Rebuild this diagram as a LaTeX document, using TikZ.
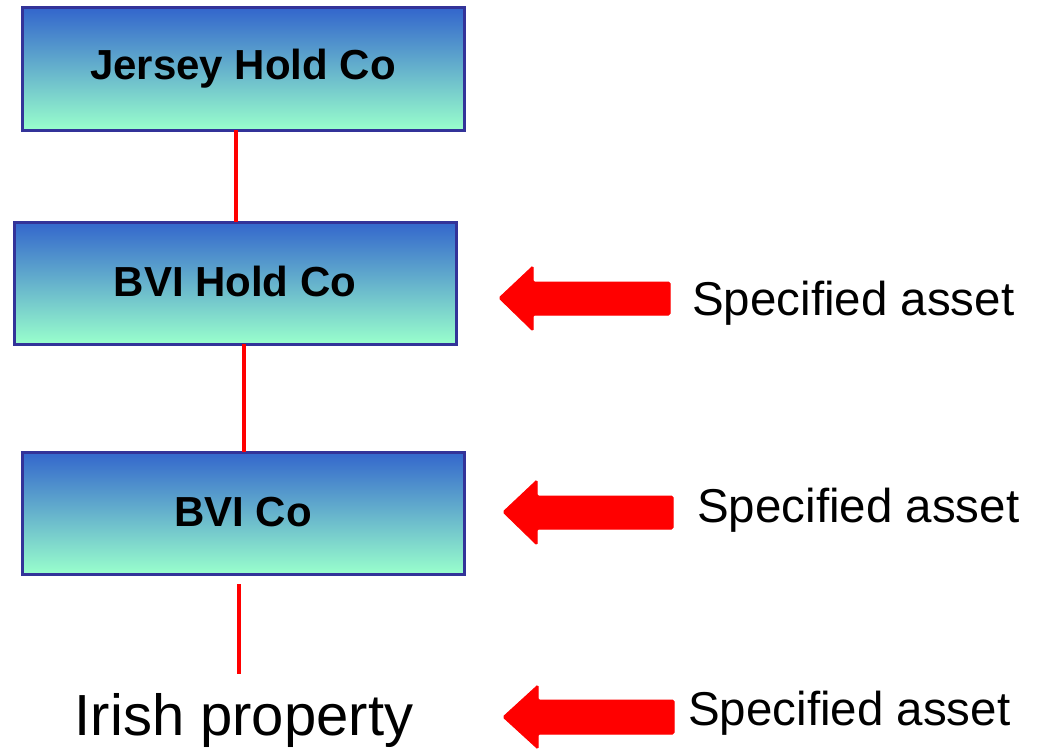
\documentclass[tikz,border=0pt]{standalone}
\usepackage{fontspec}
\setmainfont{Liberation Sans}
\begin{document}
\begin{tikzpicture}[x=1pt,y=-1pt,
  cobox/.style={draw=boxborder, line width=3pt, top color=boxtop, bottom color=boxbot,
    minimum width=442pt, minimum height=122pt, inner sep=0pt, outer sep=0pt,
    font=\fontsize{42}{50}\selectfont\bfseries},
  link/.style={draw=red, line width=3.5pt},
  asset/.style={anchor=west, inner sep=0pt, font=\fontsize{47.5}{56}\selectfont},
  bigarrow/.style={fill=red, draw=red, line width=1pt, rounded corners=1.5pt}
]
\definecolor{boxborder}{HTML}{333399}
\definecolor{boxtop}{HTML}{3366CC}
\definecolor{boxbot}{HTML}{99FFCC}
\useasboundingbox (0,0) rectangle (1039,752);

\node[cobox] (jersey) at (243,69) {Jersey Hold Co};
\node[cobox] (bvihold) at (235,283) {\raisebox{4pt}{BVI Hold Co}};
\node[cobox] (bvico) at (243,513) {\raisebox{2pt}{BVI Co}};
\node[inner sep=0pt, font=\fontsize{58}{68}\selectfont] (irish) at (244,720) {Irish property};

\draw[link] (jersey.south -| 236,0) -- (bvihold.north -| 236,0);
\draw[link] (bvihold.south -| 244,0) -- (bvico.north -| 244,0);
\coordinate (l3a) at (239,584);
\coordinate (l3b) at (239,674);
\draw[link] (l3a) -- (l3b);

% arrows
\fill[bigarrow] (499,298) -- (533,266) -- (533,282) -- (670,282) -- (670,315) -- (533,315) -- (533,331) -- cycle;
\fill[bigarrow] (503,512) -- (537,480) -- (537,496) -- (673,496) -- (673,529) -- (537,529) -- (537,545) -- cycle;
\fill[bigarrow] (503,717) -- (538,685) -- (538,700) -- (674,700) -- (674,734) -- (538,734) -- (538,749) -- cycle;

\node[asset] (s1) at (692,303) {Specified asset};
\node[asset] (s2) at (697,510) {Specified asset};
\node[asset] (s3) at (688,713) {Specified asset};
\end{tikzpicture}
\end{document}
